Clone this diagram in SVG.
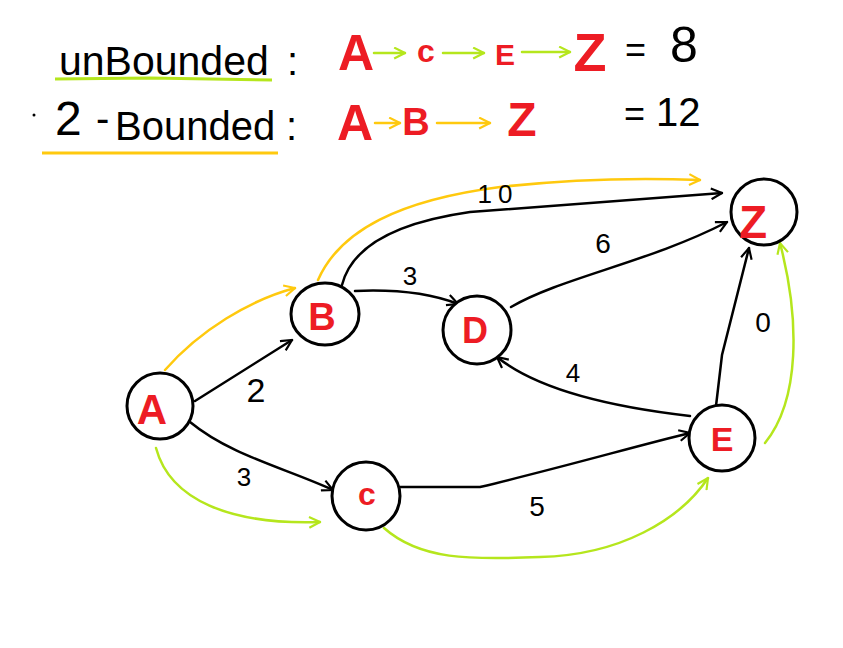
<svg xmlns="http://www.w3.org/2000/svg" width="843" height="648" viewBox="0 0 843 648">
<style>
.hd{font-family:"Liberation Sans",Arial,sans-serif;fill:#000}
.rd{font-family:"Liberation Sans",Arial,sans-serif;font-weight:bold;fill:#ed1c24;text-anchor:middle}
.nl{font-family:"Liberation Sans",Arial,sans-serif;fill:#000;text-anchor:middle}
.node{fill:#fff;stroke:#000;stroke-width:3}
.e{fill:none;stroke:#000;stroke-width:2.5;stroke-linecap:round;marker-end:url(#ak)}
.y{fill:none;stroke:#ffc90e;stroke-width:2.5;stroke-linecap:round;marker-end:url(#ay)}
.g{fill:none;stroke:#b5e61d;stroke-width:2.5;stroke-linecap:round;marker-end:url(#ag)}
</style>
<defs>
<marker id="ak" viewBox="0 0 12 12" refX="11" refY="6" markerWidth="13" markerHeight="13" markerUnits="userSpaceOnUse" orient="auto"><path d="M1,1 L11,6 L1,11" fill="none" stroke="#000" stroke-width="2"/></marker>
<marker id="ay" viewBox="0 0 12 12" refX="11" refY="6" markerWidth="13" markerHeight="13" markerUnits="userSpaceOnUse" orient="auto"><path d="M1,1 L11,6 L1,11" fill="none" stroke="#ffc90e" stroke-width="2"/></marker>
<marker id="ag" viewBox="0 0 12 12" refX="11" refY="6" markerWidth="13" markerHeight="13" markerUnits="userSpaceOnUse" orient="auto"><path d="M1,1 L11,6 L1,11" fill="none" stroke="#b5e61d" stroke-width="2"/></marker>
</defs>
<rect width="843" height="648" fill="#fff"/>

<g id="header">
<text class="hd" x="59" y="75" font-size="41">unBounded</text>
<text class="hd" x="287" y="75" font-size="40">:</text>
<path d="M55,79 L150,78 L272,80" fill="none" stroke="#b5e61d" stroke-width="3"/>
<text class="rd" x="356" y="70" font-size="50">A</text>
<path d="M374,53 L405,53" class="g"/>
<text class="rd" x="426" y="62" font-size="32">c</text>
<path d="M443,53 L484,53" class="g"/>
<text class="rd" x="505" y="65" font-size="30">E</text>
<path d="M522,52 L570,52" class="g"/>
<text class="rd" x="590" y="71" font-size="54">Z</text>
<text class="hd" x="625" y="62" font-size="36">=</text>
<text class="hd" x="670" y="62" font-size="50">8</text>

<circle cx="34" cy="115" r="1.5" fill="#000"/>
<text class="hd" x="55" y="135" font-size="48">2</text>
<text class="hd" x="96" y="132" font-size="40">-</text>
<text class="hd" x="115" y="140" font-size="40">Bounded</text>
<text class="hd" x="286" y="140" font-size="40">:</text>
<path d="M42,153 L278,153" fill="none" stroke="#ffc90e" stroke-width="3"/>
<text class="rd" x="355" y="140" font-size="50">A</text>
<path d="M375,123 L400,123" class="y"/>
<text class="rd" x="416" y="135" font-size="38">B</text>
<path d="M437,123 L490,123" class="y"/>
<text class="rd" x="522" y="136" font-size="48">Z</text>
<text class="hd" x="624" y="126" font-size="36">=</text>
<text class="hd" x="656" y="126" font-size="40">12</text>
</g>

<g id="connectors">
<path class="e" d="M195,401 L292,340"/>
<path class="e" d="M190,422 C230,455 285,468 333,490"/>
<path class="e" d="M355,291 C400,289 432,294 458,304"/>
<path class="e" d="M342,285 C352,245 400,222 470,212 L722,193"/>
<path class="e" d="M511,307 C560,278 650,262 727,222"/>
<path class="e" d="M690,416 C620,408 540,392 497,357"/>
<path class="e" d="M716,406 L722,355 L749,248"/>
<path class="e" d="M400,487 L480,487 C560,468 640,445 690,433"/>
<path class="y" d="M165,370 C200,330 250,300 295,288"/>
<path class="y" d="M318,280 C340,230 400,200 500,187 C580,178 650,178 700,180"/>
<path class="g" d="M156,448 C170,500 230,525 320,522"/>
<path class="g" d="M384,528 C420,560 470,560 540,557 C620,555 680,520 708,478"/>
<path class="g" d="M765,443 C800,400 800,320 780,243"/>
<text class="nl" x="256" y="402" font-size="34">2</text>
<text class="nl" x="244" y="486" font-size="26">3</text>
<text class="nl" x="410" y="285" font-size="26">3</text>
<text class="nl" x="498" y="203" font-size="26" letter-spacing="6">10</text>
<text class="nl" x="603" y="253" font-size="28">6</text>
<text class="nl" x="573" y="382" font-size="26">4</text>
<text class="nl" x="763" y="332" font-size="28">0</text>
<text class="nl" x="537" y="516" font-size="28">5</text>
</g>

<g id="node-A"><circle class="node" cx="160" cy="406" r="33"/><text class="rd" x="152" y="424" font-size="42">A</text></g>
<g id="node-B"><ellipse class="node" cx="325" cy="314" rx="34" ry="31"/><text class="rd" x="322" y="330" font-size="38">B</text></g>
<g id="node-D"><circle class="node" cx="477" cy="330" r="34"/><text class="rd" x="475" y="343" font-size="36">D</text></g>
<g id="node-Z"><circle class="node" cx="764" cy="212" r="33"/><text class="rd" x="753" y="238" font-size="46">Z</text></g>
<g id="node-E"><circle class="node" cx="722" cy="438" r="33"/><text class="rd" x="722" y="451" font-size="34">E</text></g>
<g id="node-C"><circle class="node" cx="366" cy="496" r="34"/><text class="rd" x="367" y="505" font-size="32">c</text></g>
</svg>
